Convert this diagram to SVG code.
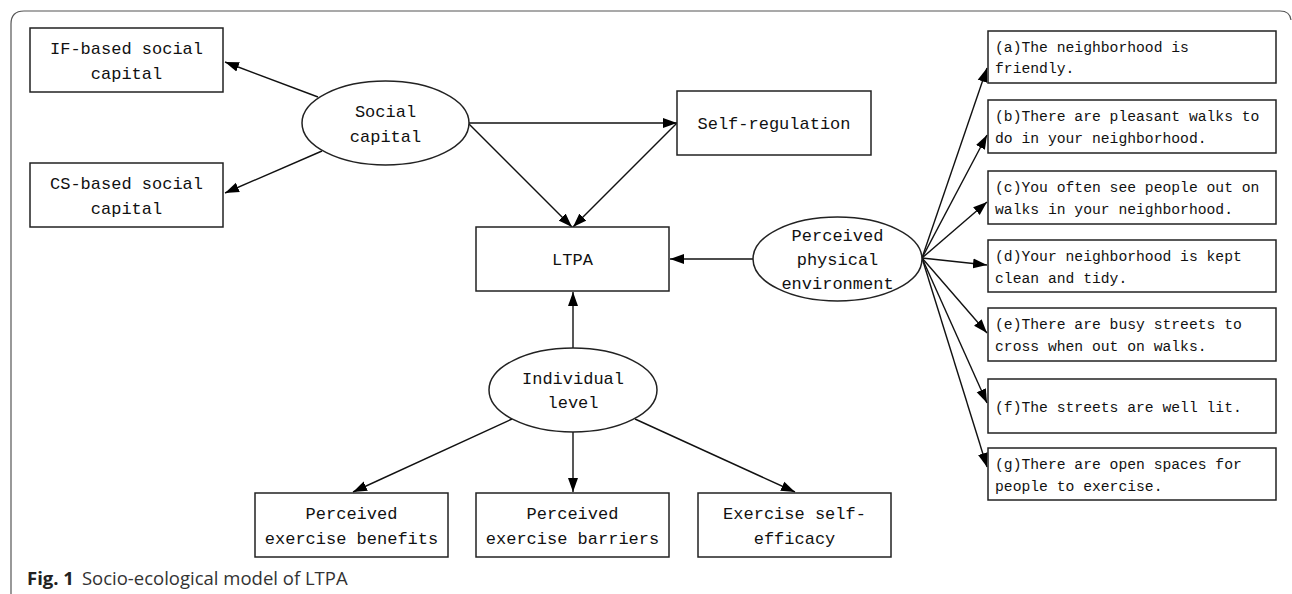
<svg xmlns="http://www.w3.org/2000/svg" width="1292" height="594" viewBox="0 0 1292 594">
<defs>
<marker id="ah" markerUnits="userSpaceOnUse" markerWidth="15" markerHeight="11" refX="14" refY="5.5" orient="auto">
<path d="M0,0.5 L14,5.5 L0,10.5 Z" fill="#000"/>
</marker>
<style>
.box{fill:#fff;stroke:#222;stroke-width:1.5}
.ell{fill:#fff;stroke:#222;stroke-width:1.5}
.t{font-family:"Liberation Mono",monospace;font-size:17px;fill:#111;text-anchor:middle}
.s{font-family:"Liberation Mono",monospace;font-size:14.7px;fill:#111}
.c line{stroke:#111;stroke-width:1.4;marker-end:url(#ah)}
</style>
</defs>
<rect width="1292" height="594" fill="#fff"/>
<path d="M11,594 V24 Q11,11 24,11 H1280 Q1290,11 1291,20" fill="none" stroke="#555" stroke-width="1.2"/>

<g class="c" id="connectors">
<line x1="318" y1="97" x2="225" y2="62"/>
<line x1="322" y1="151" x2="225" y2="193"/>
<line x1="469" y1="123" x2="677" y2="123"/>
<line x1="469" y1="124" x2="572" y2="227"/>
<line x1="677" y1="123" x2="573" y2="227"/>
<line x1="753" y1="259" x2="670" y2="259"/>
<line x1="573" y1="348" x2="573" y2="292"/>
<line x1="512" y1="419" x2="353" y2="492"/>
<line x1="573" y1="432" x2="573" y2="492"/>
<line x1="635" y1="419" x2="795" y2="492"/>
<line x1="922" y1="258" x2="987" y2="68"/>
<line x1="922" y1="258" x2="987" y2="135"/>
<line x1="922" y1="258" x2="987" y2="202"/>
<line x1="922" y1="258" x2="987" y2="265"/>
<line x1="922" y1="258" x2="987" y2="333"/>
<line x1="922" y1="258" x2="987" y2="403"/>
<line x1="922" y1="258" x2="987" y2="467"/>
</g>

<g id="if-capital"><rect class="box" x="30" y="28" width="193" height="64"/>
<text class="t" x="126.5" y="54">IF-based social</text><text class="t" x="126.5" y="79">capital</text></g>
<g id="cs-capital"><rect class="box" x="30" y="163" width="193" height="64"/>
<text class="t" x="126.5" y="189">CS-based social</text><text class="t" x="126.5" y="214">capital</text></g>
<g id="social-capital"><ellipse class="ell" cx="385.5" cy="123" rx="83.5" ry="42"/>
<text class="t" x="385.5" y="117">Social</text><text class="t" x="385.5" y="142">capital</text></g>
<g id="self-regulation"><rect class="box" x="677" y="91" width="194" height="64"/>
<text class="t" x="774" y="129">Self-regulation</text></g>
<g id="ltpa"><rect class="box" x="476" y="227" width="193" height="64"/>
<text class="t" x="572.5" y="265">LTPA</text></g>
<g id="perceived-physical-environment"><ellipse class="ell" cx="837.5" cy="259" rx="84.5" ry="42"/>
<text class="t" x="837.5" y="241">Perceived</text><text class="t" x="837.5" y="265">physical</text><text class="t" x="837.5" y="289">environment</text></g>
<g id="individual-level"><ellipse class="ell" cx="573" cy="390" rx="84" ry="42"/>
<text class="t" x="573" y="384">Individual</text><text class="t" x="573" y="408">level</text></g>
<g id="benefits"><rect class="box" x="255" y="493" width="193" height="64"/>
<text class="t" x="351.5" y="519">Perceived</text><text class="t" x="351.5" y="544">exercise benefits</text></g>
<g id="barriers"><rect class="box" x="476" y="493" width="193" height="64"/>
<text class="t" x="572.5" y="519">Perceived</text><text class="t" x="572.5" y="544">exercise barriers</text></g>
<g id="self-efficacy"><rect class="box" x="698" y="493" width="193" height="64"/>
<text class="t" x="794.5" y="519">Exercise self-</text><text class="t" x="794.5" y="544">efficacy</text></g>

<g id="item-a"><rect class="box" x="988" y="31" width="288" height="52"/>
<text class="s" x="995" y="52">(a)The neighborhood is</text><text class="s" x="995" y="73">friendly.</text></g>
<g id="item-b"><rect class="box" x="988" y="100" width="288" height="53"/>
<text class="s" x="995" y="121">(b)There are pleasant walks to</text><text class="s" x="995" y="143">do in your neighborhood.</text></g>
<g id="item-c"><rect class="box" x="988" y="171" width="288" height="53"/>
<text class="s" x="995" y="192">(c)You often see people out on</text><text class="s" x="995" y="214">walks in your neighborhood.</text></g>
<g id="item-d"><rect class="box" x="988" y="240" width="288" height="52"/>
<text class="s" x="995" y="261">(d)Your neighborhood is kept</text><text class="s" x="995" y="283">clean and tidy.</text></g>
<g id="item-e"><rect class="box" x="988" y="308" width="288" height="53"/>
<text class="s" x="995" y="329">(e)There are busy streets to</text><text class="s" x="995" y="351">cross when out on walks.</text></g>
<g id="item-f"><rect class="box" x="988" y="379" width="288" height="54"/>
<text class="s" x="995" y="412">(f)The streets are well lit.</text></g>
<g id="item-g"><rect class="box" x="988" y="448" width="288" height="52"/>
<text class="s" x="995" y="469">(g)There are open spaces for</text><text class="s" x="995" y="491">people to exercise.</text></g>

<text x="27" y="585" font-family="Open Sans, sans-serif" font-size="18.5" fill="#333"><tspan font-weight="bold" fill="#222">Fig. 1</tspan><tspan dx="8">Socio-ecological model of LTPA</tspan></text>
</svg>
